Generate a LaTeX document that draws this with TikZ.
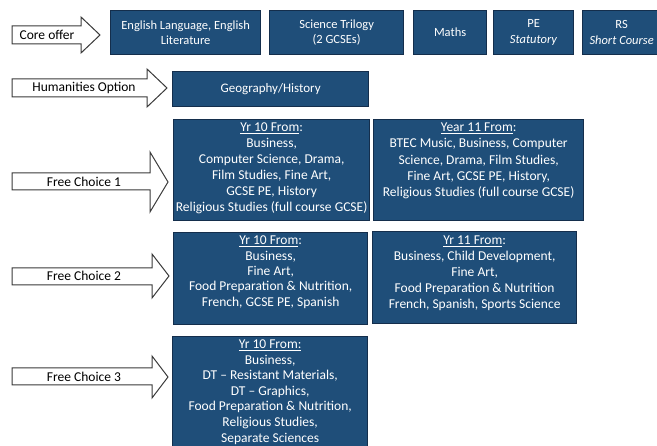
\documentclass[tikz,border=0pt]{standalone}
\usepackage{fontspec}
\setmainfont{Carlito}
\definecolor{boxblue}{HTML}{1F4E79}
\definecolor{boxedge}{HTML}{142E4C}
\definecolor{arrowedge}{HTML}{3A3A3A}
\begin{document}
\begin{tikzpicture}[x=1pt,y=-1pt,
  box/.style={draw=boxedge,fill=boxblue,line width=1.3pt,text=white,align=center,
    inner sep=0pt,anchor=north west,font=\fontsize{13.5}{16}\selectfont},
  corefont/.style={font=\fontsize{12.5}{15.5}\selectfont},
  boxtxt/.style={text=white,align=center,inner sep=0pt,font=\fontsize{13.5}{16}\selectfont},
  arr/.style={draw=arrowedge,fill=white,line width=1pt,line join=miter},
  lab/.style={font=\fontsize{13.5}{14}\selectfont,text=black,inner sep=0pt}]
\useasboundingbox (0,0) rectangle (657,446);
\clip (0,0) rectangle (657,446);

% ---- arrows ----
\draw[arr] (12,26) -- (81,26) -- (81,17) -- (100,35) -- (81,53) -- (81,44) -- (12,44) -- cycle;
\node[lab] (core) at (47,35) {Core offer};
\draw[arr] (12,79) -- (147,79) -- (147,69) -- (167,88) -- (147,107) -- (147,97) -- (12,97) -- cycle;
\node[lab] (hum) at (84,88) {Humanities Option};
\draw[arr] (12,173) -- (150,173) -- (150,152) -- (168,182) -- (150,212) -- (150,190) -- (12,190) -- cycle;
\node[lab] (fc1) at (84,182) {Free Choice 1};
\draw[arr] (12,268) -- (152,268) -- (152,254) -- (169,276) -- (152,298) -- (152,285) -- (12,285) -- cycle;
\node[lab] (fc2) at (84,276) {Free Choice 2};
\draw[arr] (12,368) -- (152,368) -- (152,356) -- (168,377) -- (152,398) -- (152,385) -- (12,385) -- cycle;
\node[lab] (fc3) at (84,377) {Free Choice 3};

% ---- core boxes ----
\node[box,corefont,minimum width=150pt,minimum height=44pt] (eng) at (110,10) {English Language, English\\Literature};
\node[box,corefont,minimum width=134pt,minimum height=44pt] (sci) at (269,10) {Science Trilogy\\(2 GCSEs)};
\node[box,corefont,minimum width=73pt,minimum height=44pt] (maths) at (413,10) {Maths};
\node[box,corefont,minimum width=80pt,minimum height=44pt] (pe) at (493,10) {PE\\\textit{Statutory}};
\node[box,corefont,minimum width=78pt,minimum height=44pt] (rs) at (582,10) {RS\\\textit{Short Course}};

% ---- humanities ----
\node[box,font=\fontsize{13}{15}\selectfont,minimum width=196pt,minimum height=35pt] (geo) at (172,71) {Geography/History};

% ---- free choice 1 ----
\node[box,minimum width=196pt,minimum height=101pt] (fc1a) at (173,119) {};
\node[boxtxt,anchor=north] (fc1at) at (fc1a.north |- 0,122.5)
  {\underline{Yr 10 From}:\\Business,\\Computer Science, Drama,\\Film Studies, Fine Art,\\GCSE PE, History\\Religious Studies (full course GCSE)};
\node[box,minimum width=210pt,minimum height=101pt] (fc1b) at (373,119) {};
\node[boxtxt,anchor=north,font=\fontsize{13.5}{16.4}\selectfont] (fc1bt) at (fc1b.north |- 0,122.5)
  {\underline{Year 11 From}:\\BTEC Music, Business, Computer\\Science, Drama, Film Studies,\\Fine Art, GCSE PE, History,\\Religious Studies (full course GCSE)};

% ---- free choice 2 ----
\node[box,minimum width=194pt,minimum height=92pt] (fc2a) at (173,232) {};
\node[boxtxt,anchor=north,font=\fontsize{13.5}{15.3}\selectfont] (fc2at) at (fc2a.north |- 0,236)
  {\underline{Yr 10 From}:\\Business,\\Fine Art,\\Food Preparation \& Nutrition,\\French, GCSE PE, Spanish};
\node[box,minimum width=204pt,minimum height=92pt] (fc2b) at (372,231) {};
\node[boxtxt,anchor=north] (fc2bt) at (fc2b.north |- 0,236)
  {\underline{Yr 11 From}:\\Business, Child Development,\\Fine Art,\\Food Preparation \& Nutrition\\French, Spanish, Sports Science};

% ---- free choice 3 ----
\node[box,minimum width=195pt,minimum height=124pt] (fc3a) at (172,336) {};
\node[boxtxt,anchor=north,font=\fontsize{13.5}{15.6}\selectfont] (fc3t) at (fc3a.north |- 0,339.5)
  {\underline{Yr 10 From:}\\Business,\\DT -- Resistant Materials,\\DT -- Graphics,\\Food Preparation \& Nutrition,\\Religious Studies,\\Separate Sciences};
\end{tikzpicture}
\end{document}
